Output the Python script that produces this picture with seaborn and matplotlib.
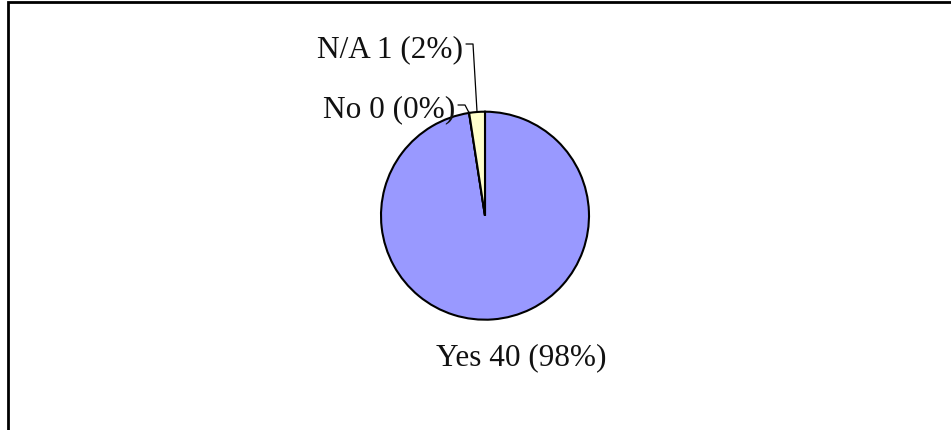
import matplotlib as mpl
import numpy as np
import matplotlib.pyplot as plt
import seaborn as sns
from matplotlib.patches import Rectangle

answers = ['Yes', 'No', 'N/A']
counts = [40, 0, 1]
slice_colors = ['#9999FF', '#993366', '#FFFFCC']

sns.set_theme(style='white')
plt.rcParams['font.family'] = ['Liberation Serif', 'DejaVu Serif']

W, H = 951, 431
fig = plt.figure(figsize=(W / 100, H / 100), dpi=100)
fig.patch.set_facecolor('white')
ax = fig.add_axes([0, 0, 1, 1])

# pixel-space helpers (image y grows downward)
cx, cy, r = 485, 216.7, 104


def py(y):
    return H - y


wedges, _ = ax.pie(counts, colors=slice_colors, startangle=90, counterclock=False,
                   center=(cx, py(cy)), radius=r,
                   wedgeprops={'edgecolor': 'black', 'linewidth': 1.5})
ax.set_xlim(0, W)
ax.set_ylim(0, H)
ax.set_aspect('equal')
ax.axis('off')

total = sum(counts)
labels = [f'{a} {c} ({c / total * 100:.0f}%)' for a, c in zip(answers, counts)]

# label placements (text anchor, baseline) in pixels
fs = 22.5
ax.text(521, py(365), labels[0], ha='center', va='baseline', fontsize=fs, color='#111111')
ax.text(455, py(117), labels[1], ha='right', va='baseline', fontsize=fs, color='#111111')
ax.text(463, py(57), labels[2], ha='right', va='baseline', fontsize=fs, color='#111111')


def edge_point(w):
    mid = np.deg2rad((w.theta1 + w.theta2) / 2)
    return cx + r * np.cos(mid), py(cy) + r * np.sin(mid)


# leader lines
ex, ey = edge_point(wedges[2])
ax.plot([466, 473, ex], [py(45), py(45), ey], color='black', lw=0.9)
ex, ey = edge_point(wedges[1])
ax.plot([458, 465, ex], [py(106), py(106), ey], color='black', lw=0.9)

# chart frame (right and bottom edges fall outside the image)
fig.add_artist(Rectangle((8 / W, -0.1), 1.0, 1.1 - 2.5 / H, transform=fig.transFigure,
                         fill=False, edgecolor='black', linewidth=2, clip_on=False))

fig.savefig('out.png', dpi=100)
